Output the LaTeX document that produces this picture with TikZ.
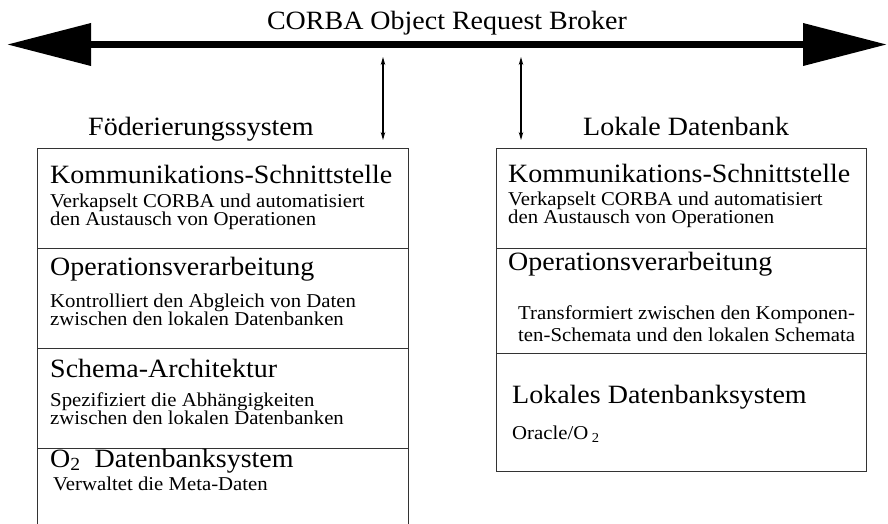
\documentclass[tikz,border=0pt]{standalone}
\usepackage{fontspec}
\setmainfont{Liberation Serif}
\usetikzlibrary{arrows.meta}
\newcommand{\bigtxt}[1]{\scalebox{1.06}[1]{\fontsize{26.4}{30}\selectfont #1}}
\newcommand{\smltxt}[1]{\scalebox{1.06}[1]{\fontsize{19.6}{22}\selectfont #1}}
\tikzset{
  lbl/.style={inner sep=0pt, anchor=base west, text=black},
  boxline/.style={line width=1pt, draw=black!80},
  orb/.style={line width=7pt, {Triangle[length=84pt,width=41pt]}-{Triangle[length=84pt,width=41pt]}},
  link/.style={line width=1.1pt, {Stealth[length=8pt,width=4.5pt]}-{Stealth[length=8pt,width=4.5pt]}}
}
\begin{document}
\begin{tikzpicture}[x=1pt,y=-1pt]
\useasboundingbox (0,0) rectangle (888,523);
% ORB
\coordinate (orbL) at (7,44.5);
\coordinate (orbR) at (887,44.5);
\draw[orb] (orbL) -- (orbR);
\node[lbl, anchor=base] (orbtxt) at (447,29) {\bigtxt{CORBA Object Request Broker}};
% small links
\coordinate (l1t) at (383,57);
\coordinate (l1b) at (383,140);
\coordinate (l2t) at (521,57);
\coordinate (l2b) at (521,140);
\draw[link] (l1t) -- (l1b);
\draw[link] (l2t) -- (l2b);
% titles
\node[lbl] (fedtitle) at (88,135) {\bigtxt{Föderierungssystem}};
\node[lbl] (loctitle) at (583,135) {\bigtxt{Lokale Datenbank}};
% left box
\draw[boxline] (37,524) -- (37,148) -- (408,148) -- (408,524);
\draw[boxline] (37,248) -- (408,248);
\draw[boxline] (37,348) -- (408,348);
\draw[boxline] (37,448) -- (408,448);
% right box
\draw[boxline] (496,148) rectangle (866,471);
\draw[boxline] (496,248) -- (866,248);
\draw[boxline] (496,353) -- (866,353);
% left texts
\node[lbl] (fk) at (50,183) {\bigtxt{Kommunikations-Schnittstelle}};
\node[lbl] (fk1) at (50,207) {\smltxt{Verkapselt CORBA und automatisiert}};
\node[lbl] (fk2) at (50,225) {\smltxt{den Austausch von Operationen}};
\node[lbl] (fo) at (50,275) {\bigtxt{Operationsverarbeitung}};
\node[lbl] (fo1) at (50,307) {\smltxt{Kontrolliert den Abgleich von Daten}};
\node[lbl] (fo2) at (50,325) {\smltxt{zwischen den lokalen Datenbanken}};
\node[lbl] (fs) at (50,377) {\bigtxt{Schema-Architektur}};
\node[lbl] (fs1) at (50,406) {\smltxt{Spezifiziert die Abhängigkeiten}};
\node[lbl] (fs2) at (50,424) {\smltxt{zwischen den lokalen Datenbanken}};
\node[lbl] (fd) at (50,467) {\bigtxt{O\textsubscript{2}\ \ Datenbanksystem}};
\node[lbl] (fd1) at (53,490) {\smltxt{Verwaltet die Meta-Daten}};
% right texts
\node[lbl] (lk) at (508,182) {\bigtxt{Kommunikations-Schnittstelle}};
\node[lbl] (lk1) at (508,205) {\smltxt{Verkapselt CORBA und automatisiert}};
\node[lbl] (lk2) at (508,223) {\smltxt{den Austausch von Operationen}};
\node[lbl] (lo) at (508,270) {\bigtxt{Operationsverarbeitung}};
\node[lbl] (lo1) at (518,319) {\smltxt{Transformiert zwischen den Komponen-}};
\node[lbl] (lo2) at (518,341) {\smltxt{ten-Schemata und den lokalen Schemata}};
\node[lbl] (ld) at (512,403) {\bigtxt{Lokales Datenbanksystem}};
\node[lbl] (ld1) at (512,439) {\smltxt{Oracle/O\,\textsubscript{2}}};
\end{tikzpicture}
\end{document}
